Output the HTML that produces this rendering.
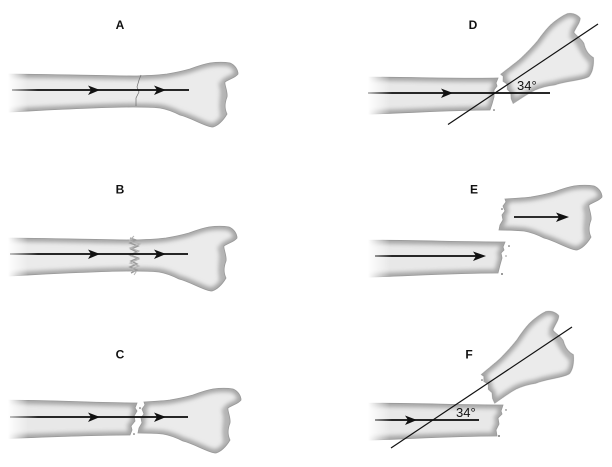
<!DOCTYPE html>
<html><head><meta charset="utf-8"><style>
html,body{margin:0;padding:0;background:#fff}
svg{display:block}
text{font-family:"Liberation Sans",sans-serif;fill:#111}
.l{font-weight:bold;font-size:12px;text-anchor:middle}
.a{font-size:13px}
.o{fill:none;stroke:#999;stroke-width:.8}
.i{fill:none;stroke:#a4a4a4;stroke-width:7}
</style></head><body>
<svg width="612" height="467" viewBox="0 0 612 467" xmlns="http://www.w3.org/2000/svg">
<defs>
<linearGradient id="f1" gradientUnits="userSpaceOnUse" x1="8" y1="0" x2="28" y2="0"><stop offset="0" stop-color="#fff"/><stop offset="1" stop-color="#fff" stop-opacity="0"/></linearGradient>
<linearGradient id="f2" gradientUnits="userSpaceOnUse" x1="368" y1="0" x2="390" y2="0"><stop offset="0" stop-color="#fff"/><stop offset="1" stop-color="#fff" stop-opacity="0"/></linearGradient>
<linearGradient id="lg1" gradientUnits="userSpaceOnUse" x1="10" y1="0" x2="38" y2="0"><stop offset="0" stop-color="#bbb"/><stop offset="1" stop-color="#111"/></linearGradient>
<linearGradient id="lg2" gradientUnits="userSpaceOnUse" x1="368" y1="0" x2="392" y2="0"><stop offset="0" stop-color="#bbb"/><stop offset="1" stop-color="#111"/></linearGradient>
<filter id="b" x="-5%" y="-5%" width="110%" height="110%"><feGaussianBlur stdDeviation=".35"/></filter>
<filter id="b2" x="-30%" y="-30%" width="160%" height="160%"><feGaussianBlur stdDeviation="2.2"/></filter>

<path id="pFull" d="M-10 74C50 74 100 76 137 76C150 75.500 160 75 167 74C176 72.500 183 71 190 69C198 66 204 64 210 63C218 62 224 62 230 63C235 65 238 70 238 74C235 78 229 79 225 82C224 84 228 92 227 97C225 102 224 108 227 114C224 119 219 125 213 127C206 127 192 118 180 115C172 111 166 109 160 108C150 107 142 107 133 107C95 107 50 110 -10 113Z"/>
<path id="pDist" d="M141 76C150 75.500 160 75 167 74C176 72.500 183 71 190 69C198 66 204 64 210 63C218 62 224 62 230 63C235 65 238 70 238 74C235 78 229 79 225 82C224 84 228 92 227 97C225 102 224 108 227 114C224 119 219 125 213 127C206 127 192 118 180 115C172 111 166 109 160 108C150 107 142 107 135 107L136 102L139 97L138 92L141 88L139 83L142 79Z"/>
<path id="pC" d="M-10 400C50 400 100 403 137 403L135 408L137 411L134 416L135 421L131 426L132 430L130 435C90 435 50 437 -10 439Z"/>
<path id="pD" d="M345 77C410 77 460 79 498 78L496 83L497 86L494 90L494 97L492 104L490 110C450 110 410 113 345 115Z"/>
<path id="pE" d="M345 240C410 240 460 242 505 242L503 247L504 250L501 253L502 258L500 265L498 273C450 273 410 276 345 278Z"/>
<path id="pF" d="M345 403C410 403 460 405 503 405L501 411L502 414L498 418L499 424L496 430L497 436C450 436 410 439 345 441Z"/>
<clipPath id="cFull"><use href="#pFull"/></clipPath>
<clipPath id="cDist"><use href="#pDist"/></clipPath>
<clipPath id="cC"><use href="#pC"/></clipPath>
<clipPath id="cD"><use href="#pD"/></clipPath>
<clipPath id="cE"><use href="#pE"/></clipPath>
<clipPath id="cF"><use href="#pF"/></clipPath>

<path id="notch" d="M225 82C226 88 228 92 227 97C225 102 225 107 227 115L221 118C219 108 220 100 220 96C221 90 220 86 218 83Z" fill="#b4b4b4" filter="url(#b2)"/>

<g id="full">
<g clip-path="url(#cFull)"><use href="#pFull" fill="#ebebeb"/><use href="#pFull" class="i" filter="url(#b2)"/><use href="#notch"/></g>
<use href="#pFull" class="o" filter="url(#b)"/>
</g>
<g id="dist">
<g clip-path="url(#cDist)"><use href="#pDist" fill="#ebebeb"/><use href="#pDist" class="i" filter="url(#b2)"/><use href="#notch"/></g>
<use href="#pDist" class="o" filter="url(#b)"/>
</g>
<g id="gC"><g clip-path="url(#cC)"><use href="#pC" fill="#e8e8e8"/><use href="#pC" class="i" filter="url(#b2)"/></g><use href="#pC" class="o" filter="url(#b)"/></g>
<g id="gD"><g clip-path="url(#cD)"><use href="#pD" fill="#e8e8e8"/><use href="#pD" class="i" filter="url(#b2)"/></g><use href="#pD" class="o" filter="url(#b)"/></g>
<g id="gE"><g clip-path="url(#cE)"><use href="#pE" fill="#e8e8e8"/><use href="#pE" class="i" filter="url(#b2)"/></g><use href="#pE" class="o" filter="url(#b)"/></g>
<g id="gF"><g clip-path="url(#cF)"><use href="#pF" fill="#e8e8e8"/><use href="#pF" class="i" filter="url(#b2)"/></g><use href="#pF" class="o" filter="url(#b)"/></g>
</defs>

<rect width="612" height="467" fill="#fff"/>

<!-- A -->
<use href="#full"/>
<rect x="0" y="65" width="28" height="55" fill="url(#f1)"/>
<path d="M141 75L139 80L137 87L139 92L136 98L136 106" fill="none" stroke="#6e6e6e" stroke-width=".7"/>
<rect x="12" y="89.100" width="177" height="1.800" fill="url(#lg1)"/>
<path d="M88 85.500L100 90L88 95L91 90Z" fill="#111"/>
<path d="M154 85.500L166 90L154 95L157 90Z" fill="#111"/>
<text class="l" x="120" y="29">A</text>

<!-- B -->
<g transform="translate(-1,164)"><use href="#full"/></g>
<rect x="0" y="229" width="28" height="55" fill="url(#f1)"/>
<path d="M130 238L136 240L130 243L138 246L131 249L137 252L130 255L138 258L131 261L137 264L130 267L137 270L131 273" fill="none" stroke="#9a9a9a" stroke-width="1.4"/>
<path d="M134 236L129 241L140 244L130 248L139 251L131 256L139 259L130 263L139 266L131 269L136 272L134 275" fill="none" stroke="#b4b4b4" stroke-width="1"/>
<rect x="10" y="253.100" width="178" height="1.800" fill="url(#lg1)"/>
<path d="M88 249.500L100 254L88 259L91 254Z" fill="#111"/>
<path d="M154 249.500L166 254L154 259L157 254Z" fill="#111"/>
<text class="l" x="120" y="193.500">B</text>

<!-- C -->
<use href="#gC"/>
<g transform="translate(3,326)"><use href="#dist"/></g>
<rect x="0" y="392" width="28" height="55" fill="url(#f1)"/>
<circle cx="140" cy="408" r=".8" fill="#555"/><circle cx="134" cy="434" r=".8" fill="#555"/>
<rect x="10" y="416.100" width="178" height="1.800" fill="url(#lg1)"/>
<path d="M88 412.500L100 417L88 422L91 417Z" fill="#111"/>
<path d="M154 412.500L166 417L154 422L157 417Z" fill="#111"/>
<text class="l" x="120" y="358.500">C</text>

<!-- D -->
<use href="#gD"/>
<g transform="translate(507,87) rotate(-34) translate(-139,-90)"><use href="#dist"/></g>
<rect x="340" y="70" width="50" height="50" fill="url(#f2)"/>
<circle cx="494" cy="110" r=".8" fill="#555"/>
<rect x="368" y="92.100" width="182" height="1.800" fill="url(#lg2)"/>
<path d="M441 88.500L453 93L441 98L444 93Z" fill="#111"/>
<path d="M448 124.500L598 24" stroke="#111" stroke-width="1.2"/>
<text class="a" x="517" y="90">34°</text>
<text class="l" x="473" y="29">D</text>

<!-- E -->
<g transform="translate(364,123)"><use href="#dist"/></g>
<use href="#gE"/>
<rect x="340" y="232" width="50" height="50" fill="url(#f2)"/>
<circle cx="509" cy="246" r=".8" fill="#555"/><circle cx="506" cy="256" r=".6" fill="#555"/><circle cx="502" cy="274" r=".9" fill="#555"/><circle cx="502" cy="209" r=".8" fill="#555"/>
<rect x="375" y="255.100" width="105" height="1.800" fill="url(#lg2)"/>
<path d="M473 251.500L486 256L473 261L476 256Z" fill="#111"/>
<path d="M514 217H564" stroke="#111" stroke-width="1.8"/>
<path d="M556 212.500L569 217L556 222L559 217Z" fill="#111"/>
<text class="l" x="474" y="193.500">E</text>

<!-- F -->
<use href="#gF"/>
<g transform="translate(488,387) rotate(-36) translate(-139,-90)"><use href="#dist"/></g>
<rect x="340" y="395" width="50" height="50" fill="url(#f2)"/>
<circle cx="506" cy="410" r=".7" fill="#555"/><circle cx="499" cy="436" r=".9" fill="#555"/><circle cx="482" cy="380" r=".8" fill="#555"/>
<rect x="375" y="419.100" width="104" height="1.800" fill="url(#lg2)"/>
<path d="M405 415.500L417 420L405 425L408 420Z" fill="#111"/>
<path d="M391 448L572 327" stroke="#111" stroke-width="1.2"/>
<text class="a" x="456" y="417">34°</text>
<text class="l" x="469" y="358.500">F</text>
</svg>
</body></html>
